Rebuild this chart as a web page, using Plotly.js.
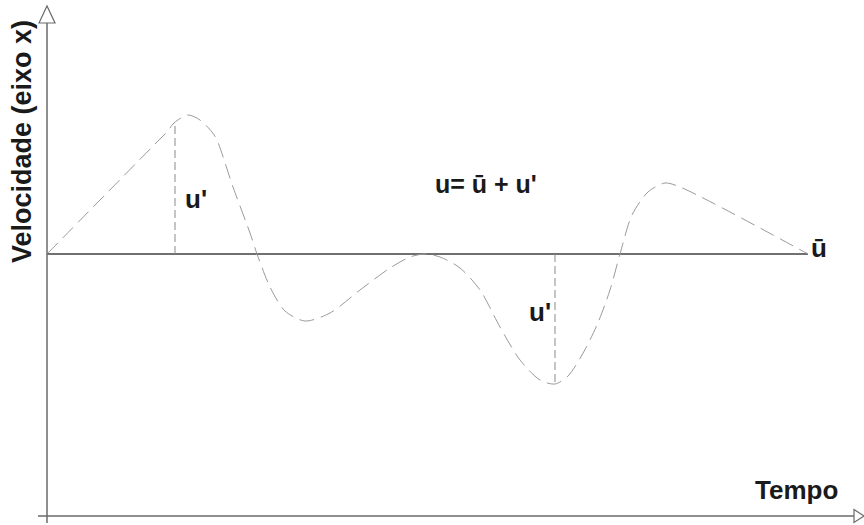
<!DOCTYPE html>
<html>
<head>
<meta charset="utf-8">
<script src="https://cdn.plot.ly/plotly-3.0.1.min.js"></script>
<style>
  html, body { margin: 0; padding: 0; background: #fff; }
  #chart { width: 864px; height: 525px; }
</style>
</head>
<body>
<div id="chart"></div>
<script>
// Instantaneous velocity u(t) = ū + u'(t), sampled along the time axis
const tempo = [0, 113, 120, 127, 141, 153, 165, 170, 186, 203, 210, 223, 238, 258, 283, 313, 343, 363, 378, 393, 413, 433, 453, 473, 493, 508, 521, 535, 550, 563, 573, 585, 601, 618, 633, 761];
const velocidade = [0, 115, 122, 131, 139, 134, 122, 114, 67, 21, 0, -33, -57, -67, -59, -36, -14, -3, 0, -3, -14, -36, -73, -106, -126, -130, -122, -101, -71, -36, 0, 39, 62, 71, 67, 0];

// Mean velocity ū and the time span it is drawn over
const mediaU = 0;
const mediaTempo = [0, 761];

// Fluctuations u' marked at two instants
const flutTempo = [128, 508];
const flutValor = [131, -130];

// Axis extents (time, velocity)
const xRange = [0, 817];
const yRange = [-263, 254];

const W = 864, H = 525;
const M = { l: 47, r: 0, t: 0, b: 8 };
const pw = W - M.l - M.r, ph = H - M.t - M.b;
const px = x => (x - M.l) / pw;          // pixel column -> paper x
const py = y => 1 - (y - M.t) / ph;       // pixel row -> paper y

const FONT = 'Liberation Sans, Arial, sans-serif';
const TXT = '#1a1a1a';

const traces = [
  {
    x: mediaTempo, y: mediaTempo.map(() => mediaU),
    mode: 'lines', line: { color: '#707070', width: 2 },
    hoverinfo: 'skip'
  },
  {
    x: tempo, y: velocidade,
    mode: 'lines', line: { color: '#9a9a9a', width: 1, dash: '15px,7px', shape: 'spline', smoothing: 0.8 },
    hoverinfo: 'skip'
  }
];
flutTempo.forEach((t, i) => {
  traces.push({
    x: [t, t], y: [mediaU, flutValor[i]],
    mode: 'lines', line: { color: '#8a8a8a', width: 1, dash: '8px,4px' },
    hoverinfo: 'skip'
  });
});

const axisColor = '#6a6a6a';
const shapes = [
  // vertical (velocity) axis
  { type: 'line', xref: 'paper', yref: 'paper', x0: px(47), x1: px(47), y0: py(523), y1: py(23),
    line: { color: axisColor, width: 1.5 } },
  { type: 'path', xref: 'paper', yref: 'paper',
    path: `M ${px(39)} ${py(23)} L ${px(47)} ${py(6)} L ${px(55)} ${py(23)} Z`,
    line: { color: axisColor, width: 1.2 }, fillcolor: '#fff' },
  // horizontal (time) axis
  { type: 'line', xref: 'paper', yref: 'paper', x0: px(38), x1: px(854), y0: py(516), y1: py(516),
    line: { color: axisColor, width: 1.5 } },
  { type: 'path', xref: 'paper', yref: 'paper',
    path: `M ${px(854)} ${py(509.5)} L ${px(864)} ${py(516)} L ${px(854)} ${py(522.5)} Z`,
    line: { color: axisColor, width: 1.2 }, fillcolor: '#fff' }
];

const label = (text, x, y, size, extra) => Object.assign({
  text, xref: 'paper', yref: 'paper', x: px(x), y: py(y),
  xanchor: 'center', yanchor: 'middle', showarrow: false,
  font: { family: FONT, size, color: TXT, weight: 'bold' }
}, extra || {});

const annotations = [
  label('Velocidade (eixo x)', 22, 142, 27, { textangle: -90 }),
  label('Tempo', 796, 490, 26),
  label('u= ū + u\'', 486, 184, 25),
  label('u\'', 196, 199, 26),
  label('u\'', 540, 312, 26),
  label('ū', 819, 248, 26)
];

const layout = {
  width: W, height: H,
  margin: M,
  paper_bgcolor: '#fff', plot_bgcolor: '#fff',
  showlegend: false,
  xaxis: { range: xRange, visible: false, fixedrange: true },
  yaxis: { range: yRange, visible: false, fixedrange: true },
  shapes, annotations
};

Plotly.newPlot('chart', traces, layout, { staticPlot: true, displayModeBar: false });
</script>
</body>
</html>
